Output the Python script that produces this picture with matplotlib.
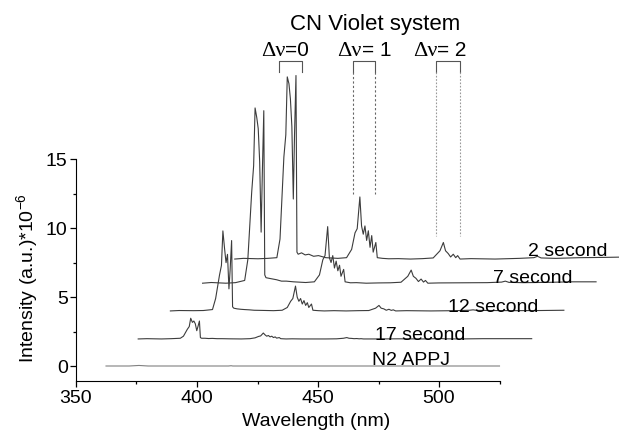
import numpy as np
import matplotlib
matplotlib.use("Agg")
import matplotlib.pyplot as plt

plt.rcParams['font.family'] = ['Liberation Sans', 'DejaVu Sans']

# keypoint wavelengths (nm) of the measured spectrum, before waterfall shift
wl = np.array([362.4, 366, 372, 376, 379.8, 381.1, 382.7, 383.5, 384.1, 384.8,
               385.4, 386.0, 386.6, 387.1, 387.7, 388.1, 388.6, 390.0, 391.5, 393.0,
               395.0, 397.0, 400.0, 405.0, 408.6, 410.7, 412.1, 413.0, 414.1, 414.8,
               415.5, 416.2, 416.9, 417.6, 418.3, 419.0, 419.6, 420.7, 421.3, 423.5,
               426, 430, 435, 440, 444.4, 447.2, 448.6, 449.5, 450.6, 451.6,
               452.7, 453.7, 454.5, 455.5, 460, 470, 480, 486, 487.5, 489,
               495, 505, 515, 525])

# intensities (x1e-6 a.u.)
i_2s = [0, 0.05, 0.02, 0.05, 0.1, 1.45, 7.4, 9.0, 13.2, 12.7,
        11.6, 9.6, 4.35, 9.0, 13.3, 0.5, 0.35, 0.45, 0.3, 0.35,
        0.2, 0.25, 0.1, 0.05, 0.1, 0.7, 1.9, 2.2, 4.5, 2.4,
        1.8, 2.4, 1.35, 2.05, 0.85, 1.7, 0.5, 1.2, 0.1, 0.05,
        0.02, 0.03, 0.0, 0.03, 0.08, 0.6, 1.2, 0.6, 0.4, 0.15,
        0.35, 0.1, 0.25, 0.0, 0.03, 0.0, 0.05, 0.1, 0.2, 0.08,
        0.05, 0.1, 0.12, 0.15]
i_7s = [0, 0.05, 0.0, 0.04, 0.2, 1.7, 6.6, 8.5, 12.7, 12.0,
        11.2, 8.8, 3.7, 8.0, 12.5, 0.6, 0.4, 0.35, 0.3, 0.25,
        0.15, 0.15, 0.1, 0.05, 0.1, 0.6, 1.7, 2.0, 4.1, 1.85,
        1.5, 2.0, 1.1, 1.6, 0.9, 1.3, 0.5, 1.0, 0.1, 0.03,
        0.04, 0.0, 0.02, 0.03, 0.07, 0.5, 0.95, 0.5, 0.35, 0.12,
        0.3, 0.08, 0.2, 0.0, 0.02, 0.03, 0.04, 0.08, 0.15, 0.06,
        0.04, 0.06, 0.1, 0.1]
i_12s = [0, 0.03, 0.02, 0.03, 0.1, 0.9, 2.6, 3.3, 5.8, 4.5,
         3.5, 4.1, 1.6, 3.0, 5.1, 0.3, 0.2, 0.15, 0.12, 0.1,
         0.08, 0.05, 0.04, 0.02, 0.05, 0.25, 0.7, 0.9, 1.8, 1.0,
         0.7, 0.9, 0.5, 0.75, 0.4, 0.6, 0.25, 0.5, 0.05, 0.02,
         0.0, 0.02, 0.0, 0.02, 0.03, 0.2, 0.4, 0.2, 0.15, 0.05,
         0.12, 0.04, 0.08, 0.0, 0.02, 0.0, 0.02, 0.05, 0.08, 0.04,
         0.03, 0.02, 0.03, 0.05]
i_17s = [0, 0.02, 0.0, 0.02, 0.05, 0.2, 0.7, 0.9, 1.5, 1.2,
         1.3, 1.1, 0.6, 0.9, 1.3, 0.1, 0.05, 0.05, 0.03, 0.04,
         0.02, 0.02, 0.01, 0.0, 0.02, 0.08, 0.18, 0.22, 0.43, 0.3,
         0.2, 0.25, 0.15, 0.2, 0.1, 0.15, 0.06, 0.1, 0.02, 0.0,
         0.01, 0.0, 0.0, 0.0, 0.01, 0.05, 0.1, 0.05, 0.04, 0.02,
         0.03, 0.01, 0.02, 0.0, 0.0, 0.01, 0.0, 0.02, 0.03, 0.01,
         0.0, 0.02, 0.02, 0.02]
i_n2 = [0, 0.0, 0.0, 0.04, 0.0, 0.0, 0.0, 0.0, 0.0, 0.0,
        0.0, 0.0, 0.0, 0.0, 0.0, 0.0, 0.0, 0.0, 0.0, 0.0,
        0.0, 0.0, 0.0, 0.0, 0.0, 0.0, 0.0, 0.0, 0.02, 0.0,
        0.0, 0.0, 0.0, 0.0, 0.0, 0.0, 0.0, 0.0, 0.0, 0.0,
        0.0, 0.0, 0.0, 0.0, 0.0, 0.0, 0.0, 0.0, 0.0, 0.0,
        0.0, 0.0, 0.0, 0.0, 0.0, 0.0, 0.0, 0.0, 0.0, 0.0,
        0.0, 0.0, 0.0, 0.0]

labels = ['N2 APPJ', '17 second', '12 second', '7 second', '2 second']
spectra = [i_n2, i_17s, i_12s, i_7s, i_2s]
x_shift = [0, 13.3, 26.6, 39.9, 53.2]
y_shift = [0, 1.96, 3.99, 6.0, 7.75]
label_x = [472.2, 473.6, 503.9, 522.4, 536.8]
label_y = [0.14, 1.96, 4.0, 6.07, 8.04]

fig = plt.figure(figsize=(6.19, 4.31), dpi=100)
ax = fig.add_axes([76/619, 49/431, 543/619, 382/431])
ax.set_xlim(350, 350 + 543/2.42)
ax.set_ylim(-15/13.8, 367/13.8)

for k in range(len(spectra)):
    col = '#808080' if k == 0 else '#3c3c3c'
    ax.plot(wl + x_shift[k], np.array(spectra[k]) + y_shift[k], color=col, lw=0.8)
    ax.text(label_x[k], label_y[k], labels[k], fontsize=14, ha='left', va='baseline')

# axes styling
for s in ['top', 'right']:
    ax.spines[s].set_visible(False)
ax.spines['left'].set_bounds(-15/13.8, 15)
ax.spines['bottom'].set_bounds(350, 525)
ax.set_xticks([350, 400, 450, 500])
ax.set_xticks([375, 425, 475, 525], minor=True)
ax.set_yticks([0, 5, 10, 15])
ax.set_yticks([2.5, 7.5, 12.5], minor=True)
ax.tick_params(which='major', direction='out', length=4, width=0.9, labelsize=14, pad=2)
ax.tick_params(which='minor', direction='out', length=2.5, width=0.9)

fig.text(316/619, 1 - 422/431, 'Wavelength (nm)', fontsize=14, ha='center', va='center')
fig.text(28/619, 1 - 278/431, 'Intensity (a.u.)*10$^{\\mathregular{-6}}$', fontsize=14,
         rotation=90, ha='center', va='center')

# CN band annotations
fig.text(375/619, 1 - 30/431, 'CN Violet system', fontsize=16, ha='center', va='baseline')
for xs, rest in [(285, '=0'), (362, '= 1'), (437, '= 2')]:
    fig.text(xs/619, 1 - 56/431, 'Δν', fontsize=16, family='Liberation Serif',
             ha='right', va='baseline')
    fig.text(xs/619, 1 - 56/431, rest, fontsize=15, ha='left', va='baseline')

ax.plot([433.9, 433.9, 443.4, 443.4], [21.3, 22.1, 22.1, 21.3], color='#555555', lw=0.8)
ax.plot([464.5, 464.5, 473.6, 473.6], [21.3, 22.1, 22.1, 21.3], color='#555555', lw=0.8)
ax.plot([464.5, 464.5], [21.3, 12.5], color='#666666', lw=0.8, ls=(0, (2, 2)))
ax.plot([473.6, 473.6], [21.3, 12.5], color='#666666', lw=0.8, ls=(0, (2, 2)))
ax.plot([498.8, 498.8, 508.7, 508.7], [21.3, 22.1, 22.1, 21.3], color='#555555', lw=0.8)
ax.plot([498.8, 498.8], [21.3, 9.4], color='#999999', lw=0.8, ls=(0, (1.5, 1.5)))
ax.plot([508.7, 508.7], [21.3, 9.4], color='#999999', lw=0.8, ls=(0, (1.5, 1.5)))

fig.savefig('out.png', dpi=100)
